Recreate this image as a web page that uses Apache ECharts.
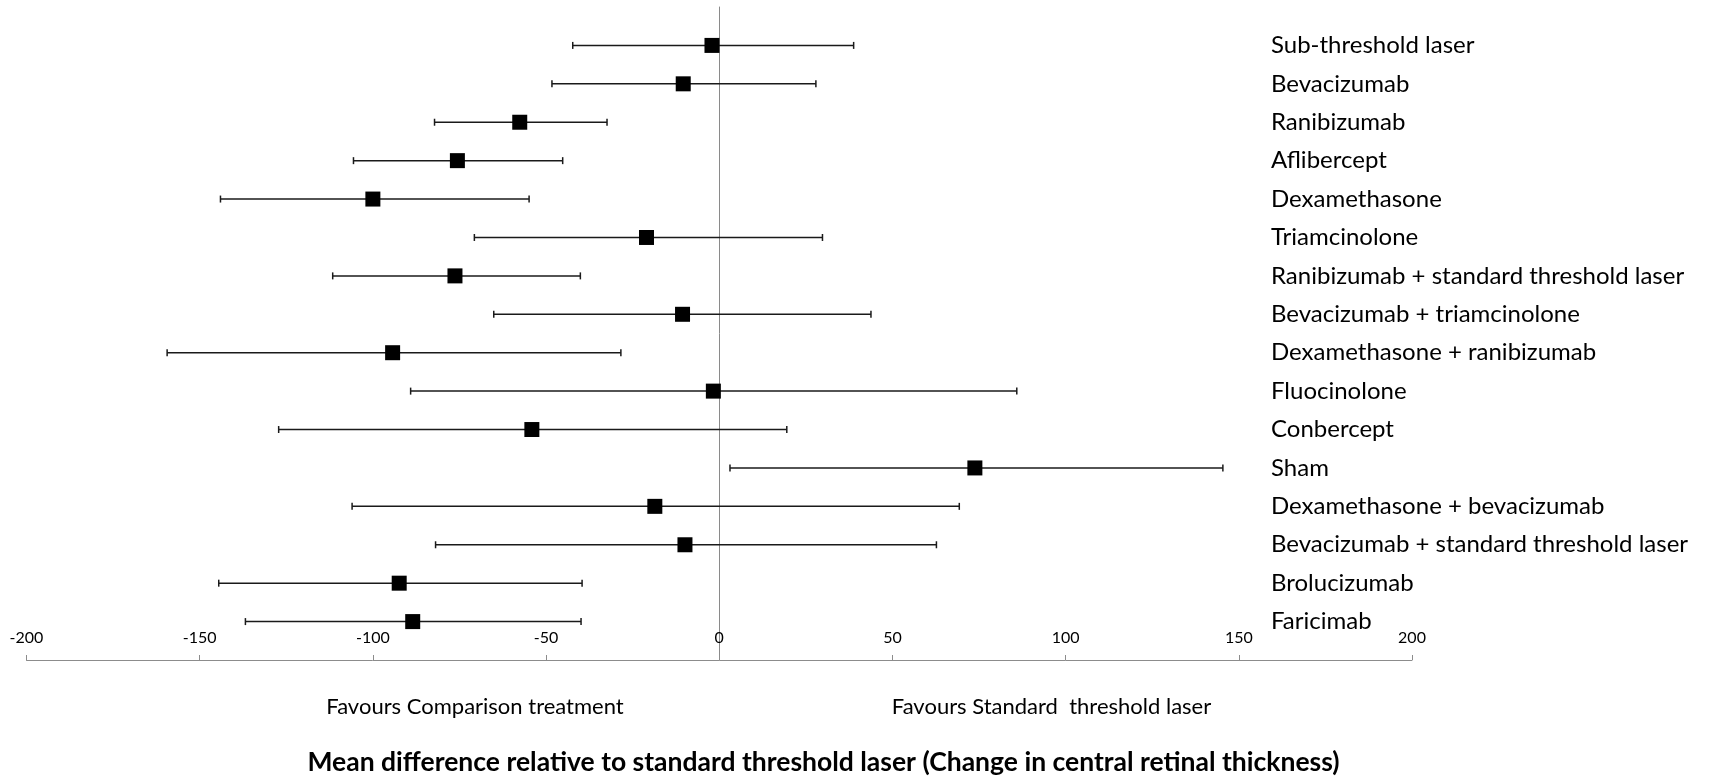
<!DOCTYPE html>
<html>
<head>
<meta charset="utf-8">
<title>Forest plot – change in central retinal thickness</title>
<script src="https://cdn.jsdelivr.net/npm/echarts@6/dist/echarts.min.js"></script>
<style>
  html, body { margin: 0; padding: 0; background: #fff; }
  #chart { width: 1731px; height: 777px; }
</style>
</head>
<body>
<div id="chart"></div>
<script>
// Treatments, listed top to bottom
const categories = [
  'Sub-threshold laser',
  'Bevacizumab',
  'Ranibizumab',
  'Aflibercept',
  'Dexamethasone',
  'Triamcinolone',
  'Ranibizumab + standard threshold laser',
  'Bevacizumab + triamcinolone',
  'Dexamethasone + ranibizumab',
  'Fluocinolone',
  'Conbercept',
  'Sham',
  'Dexamethasone + bevacizumab',
  'Bevacizumab + standard threshold laser',
  'Brolucizumab',
  'Faricimab'
];

// Mean difference vs standard threshold laser, with 95% interval bounds
const meanDiff = [-2.1, -10.4, -57.6, -75.6, -100.0, -21.0, -76.3, -10.6, -94.3, -1.7, -54.1, 73.8, -18.6, -9.9, -92.4, -88.5];
const lowerCI  = [-42.3, -48.3, -82.2, -105.6, -144.0, -70.7, -111.6, -65.1, -159.4, -89.1, -127.2, 3.1, -106.0, -81.9, -144.5, -136.8];
const upperCI  = [38.8, 27.9, -32.4, -45.2, -54.9, 29.8, -40.1, 43.8, -28.4, 85.9, 19.5, 145.4, 69.3, 62.7, -39.6, -39.9];

// Horizontal axis range and step
const xMin = -200, xMax = 200, xStep = 50;

const n = categories.length;
const rowOf = i => n - i;           // first treatment at the top
const FONT = 'Lato, "Liberation Sans", sans-serif';

const chart = echarts.init(document.getElementById('chart'), null, { renderer: 'canvas' });

chart.setOption({
  backgroundColor: '#ffffff',
  animation: false,
  grid: { left: 26.5, right: 319, top: 7, bottom: 117, containLabel: false },
  xAxis: {
    type: 'value',
    min: xMin, max: xMax, interval: xStep,
    axisLine: { show: true, onZero: false, lineStyle: { color: '#8c8c8c', width: 1 } },
    axisTick: { show: true, inside: true, length: 5, lineStyle: { color: '#8c8c8c' } },
    axisLabel: { inside: true, margin: 14, fontSize: 16, color: '#000', fontFamily: FONT },
    splitLine: { show: false }
  },
  yAxis: [
    {
      type: 'value', min: 0, max: n + 1,
      axisLine: { show: true, onZero: true, lineStyle: { color: '#8a8a8a', width: 1 } },
      axisTick: { show: false },
      axisLabel: { show: false },
      splitLine: { show: false }
    },
    {
      type: 'value', min: 0, max: n + 1, interval: 1,
      position: 'right', offset: -141,
      axisLine: { show: false },
      axisTick: { show: false },
      splitLine: { show: false },
      axisLabel: {
        margin: 0, fontSize: 24, color: '#000', fontFamily: FONT, align: 'left',
        formatter: v => (v >= 1 && v <= n) ? categories[n - v] : ''
      }
    }
  ],
  series: [
    {
      name: 'interval',
      type: 'custom',
      xAxisIndex: 0, yAxisIndex: 0,
      data: categories.map((c, i) => [lowerCI[i], upperCI[i], rowOf(i)]),
      encode: { x: [0, 1], y: 2 },
      renderItem: (params, api) => {
        const lo = api.coord([api.value(0), api.value(2)]);
        const hi = api.coord([api.value(1), api.value(2)]);
        const cap = 3.5;
        const style = { stroke: '#1a1a1a', lineWidth: 1.5 };
        return {
          type: 'group',
          children: [
            { type: 'line', shape: { x1: lo[0], y1: lo[1], x2: hi[0], y2: hi[1] }, style },
            { type: 'line', shape: { x1: lo[0], y1: lo[1] - cap, x2: lo[0], y2: lo[1] + cap }, style },
            { type: 'line', shape: { x1: hi[0], y1: hi[1] - cap, x2: hi[0], y2: hi[1] + cap }, style }
          ]
        };
      },
      z: 2
    },
    {
      name: 'mean difference',
      type: 'scatter',
      xAxisIndex: 0, yAxisIndex: 0,
      data: meanDiff.map((v, i) => [v, rowOf(i)]),
      symbol: 'rect',
      symbolSize: 15,
      itemStyle: { color: '#000', opacity: 1 },
      z: 3
    }
  ],
  graphic: [
    {
      type: 'text', x: 475, y: 707,
      style: { text: 'Favours Comparison treatment', font: '22px ' + FONT, fill: '#000', textAlign: 'center', textVerticalAlign: 'middle' }
    },
    {
      type: 'text', x: 1051.5, y: 707,
      style: { text: 'Favours Standard  threshold laser', font: '22px ' + FONT, fill: '#000', textAlign: 'center', textVerticalAlign: 'middle' }
    },
    {
      type: 'text', x: 823.5, y: 762,
      style: { text: 'Mean difference relative to standard threshold laser (Change in central retinal thickness)', font: 'bold 26.5px ' + FONT, fill: '#000', textAlign: 'center', textVerticalAlign: 'middle' }
    }
  ]
});
</script>
</body>
</html>
